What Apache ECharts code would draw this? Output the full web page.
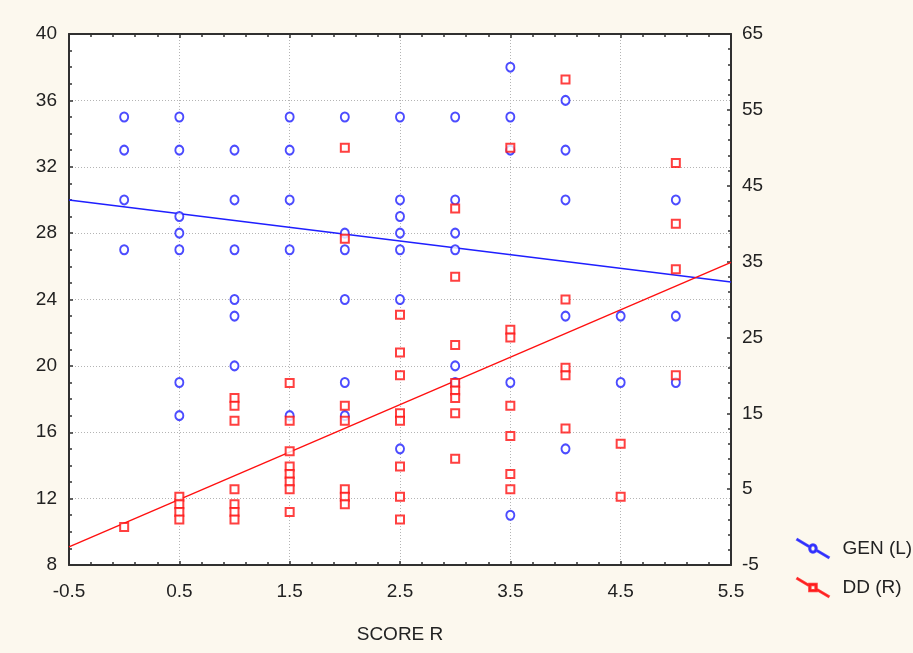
<!DOCTYPE html>
<html>
<head>
<meta charset="utf-8">
<script src="https://cdn.jsdelivr.net/npm/echarts@6/dist/echarts.min.js"></script>
<style>
html,body{margin:0;padding:0;background:#fcf8ee;}
#chart{width:913px;height:653px;}
</style>
</head>
<body>
<div id="chart"></div>
<script>
// SCORE R tick labels
const xTicks = ['-0.5', '0.5', '1.5', '2.5', '3.5', '4.5', '5.5'];
const leftTicks = [8, 12, 16, 20, 24, 28, 32, 36, 40];
const rightTicks = [-5, 5, 15, 25, 35, 45, 55, 65];

// GEN (L): score and value
const genX = [0,0,0,0, 0.5,0.5,0.5,0.5,0.5,0.5,0.5, 1,1,1,1,1,1, 1.5,1.5,1.5,1.5,1.5,
  2,2,2,2,2,2, 2.5,2.5,2.5,2.5,2.5,2.5,2.5, 3,3,3,3,3,3, 3.5,3.5,3.5,3.5,3.5,
  4,4,4,4,4, 4.5,4.5, 5,5,5];
const genY = [35,33,30,27, 35,33,29,28,27,19,17, 33,30,27,24,23,20, 35,33,30,27,17,
  35,28,27,24,19,17, 35,30,29,28,27,24,15, 35,30,28,27,20,19, 38,35,33,19,11,
  36,33,30,23,15, 23,19, 30,23,19];

// DD (R): score and value
const ddX = [0, 0.5,0.5,0.5,0.5, 1,1,1,1,1,1,1, 1.5,1.5,1.5,1.5,1.5,1.5,1.5,1.5,
  2,2,2,2,2,2,2, 2.5,2.5,2.5,2.5,2.5,2.5,2.5,2.5, 3,3,3,3,3,3,3,3,
  3.5,3.5,3.5,3.5,3.5,3.5,3.5, 4,4,4,4,4, 4.5,4.5, 5,5,5,5];
const ddY = [0, 4,3,2,1, 17,16,14,5,3,2,1, 19,14,10,8,7,6,5,2,
  50,38,16,14,5,4,3, 28,23,20,15,14,8,4,1, 42,33,24,19,18,17,15,9,
  50,26,25,16,12,7,5, 59,30,21,20,13, 11,4, 48,40,34,20];

// fitted lines (at x = -0.5 and x = 5.5)
const fitX = [-0.5, 5.5];
const genFit = [30.0, 25.05];
const ddFit = [-2.6, 34.9];

const BLUE = '#1f1fff';
const RED = '#ff1010';
const FONT = 'Liberation Sans, Arial, sans-serif';
const zip = (a, b) => a.map((v, i) => [v, b[i]]);

function ring(cx, cy, rx, ry, t, n) {
  let o = '', inner = '';
  for (let i = 0; i < n; i++) {
    const a = 2 * Math.PI * i / n;
    o += (i ? 'L' : 'M') + (cx + rx * Math.cos(a)).toFixed(2) + ',' + (cy + ry * Math.sin(a)).toFixed(2);
    const b = -2 * Math.PI * i / n;
    inner += (i ? 'L' : 'M') + (cx + (rx - t) * Math.cos(b)).toFixed(2) + ',' + (cy + (ry - t) * Math.sin(b)).toFixed(2);
  }
  return o + 'Z ' + inner + 'Z';
}
const segA = 'M0.3,-0.5L12.6,6.9L12,7.9L-0.3,0.5Z ';
const segB = 'M20.9,11.1L33.3,18.5L32.7,19.5L20.3,12.1Z ';
const genIcon = 'path://' + segA + segB + ring(16.5, 9.5, 4, 4.5, 1.3, 24);
const ddIcon = 'path://' + segA + segB + 'M12.5,5.5L20.5,5.5L20.5,13.5L12.5,13.5Z M14,7L14,12L19,12L19,7Z';

const chart = echarts.init(document.getElementById('chart'));
const axisLine = {show: true, onZero: false, lineStyle: {color: '#303030', width: 2}};
const tickStyle = {show: true, inside: true, length: 4, lineStyle: {color: '#303030', width: 1.5}};
const minorStyle = {show: true, length: 3, lineStyle: {color: '#303030', width: 1.5}};
const labelStyle = {color: '#222', fontFamily: FONT, fontSize: 19};

chart.setOption({
  backgroundColor: '#fcf8ee',
  animation: false,
  grid: {left: 69, right: 182, top: 34, bottom: 88, show: true, backgroundColor: '#ffffff', borderWidth: 0},
  legend: {
    orient: 'vertical', left: 791, top: 533, itemWidth: 33, itemHeight: 19, itemGap: 18,
    textStyle: {color: '#222', fontFamily: FONT, fontSize: 19,
      rich: {t: {padding: [0, 0, 0, 8], fontFamily: FONT, fontSize: 19, color: '#222'}}},
    formatter: n => '{t|' + n + '}',
    data: [{name: 'GEN (L)', icon: genIcon}, {name: 'DD (R)', icon: ddIcon}]
  },
  xAxis: [{
    type: 'value', min: -0.5, max: 5.5, interval: 1, position: 'bottom',
    name: 'SCORE R', nameLocation: 'middle', nameGap: 60,
    nameTextStyle: {color: '#222', fontFamily: FONT, fontSize: 19},
    axisLine: axisLine, axisTick: tickStyle,
    minorTick: Object.assign({splitNumber: 5}, minorStyle),
    axisLabel: Object.assign({margin: 17, formatter: v => xTicks[Math.round(v + 0.5)] }, labelStyle),
    splitLine: {show: true, lineStyle: {color: '#b4b4b4', type: [1, 2], width: 1}}
  }, {
    type: 'value', min: -0.5, max: 5.5, interval: 1, position: 'top',
    axisLine: axisLine, axisTick: tickStyle,
    minorTick: Object.assign({splitNumber: 5}, minorStyle),
    axisLabel: {show: false}, splitLine: {show: false}
  }],
  yAxis: [{
    type: 'value', min: 8, max: 40, interval: 4, position: 'left',
    axisLine: axisLine, axisTick: tickStyle,
    minorTick: Object.assign({splitNumber: 4}, minorStyle),
    axisLabel: Object.assign({margin: 12, formatter: v => String(leftTicks[(v - 8) / 4])}, labelStyle),
    splitLine: {show: true, lineStyle: {color: '#b4b4b4', type: [1, 2], width: 1}}
  }, {
    type: 'value', min: -5, max: 65, interval: 10, position: 'right',
    axisLine: axisLine, axisTick: tickStyle,
    minorTick: Object.assign({splitNumber: 5}, minorStyle),
    axisLabel: Object.assign({margin: 11, formatter: v => String(rightTicks[(v + 5) / 10])}, labelStyle),
    splitLine: {show: false}
  }],
  series: [
    {name: 'GEN fit', type: 'line', xAxisIndex: 0, yAxisIndex: 0, data: zip(fitX, genFit),
      showSymbol: false, symbol: 'none', lineStyle: {color: BLUE, width: 1.6}, z: 3, silent: true},
    {name: 'DD fit', type: 'line', xAxisIndex: 0, yAxisIndex: 1, data: zip(fitX, ddFit),
      showSymbol: false, symbol: 'none', lineStyle: {color: RED, width: 1.4}, z: 3, silent: true},
    {name: 'GEN (L)', type: 'scatter', xAxisIndex: 0, yAxisIndex: 0, data: zip(genX, genY),
      symbol: 'emptyCircle', symbolSize: [8, 9], itemStyle: {color: BLUE, borderColor: BLUE, borderWidth: 1.6}, z: 4},
    {name: 'DD (R)', type: 'scatter', xAxisIndex: 0, yAxisIndex: 1, data: zip(ddX, ddY),
      symbol: 'emptyRect', symbolSize: 8, itemStyle: {color: RED, borderColor: RED, borderWidth: 1.6}, z: 5}
  ]
});
</script>
</body>
</html>
